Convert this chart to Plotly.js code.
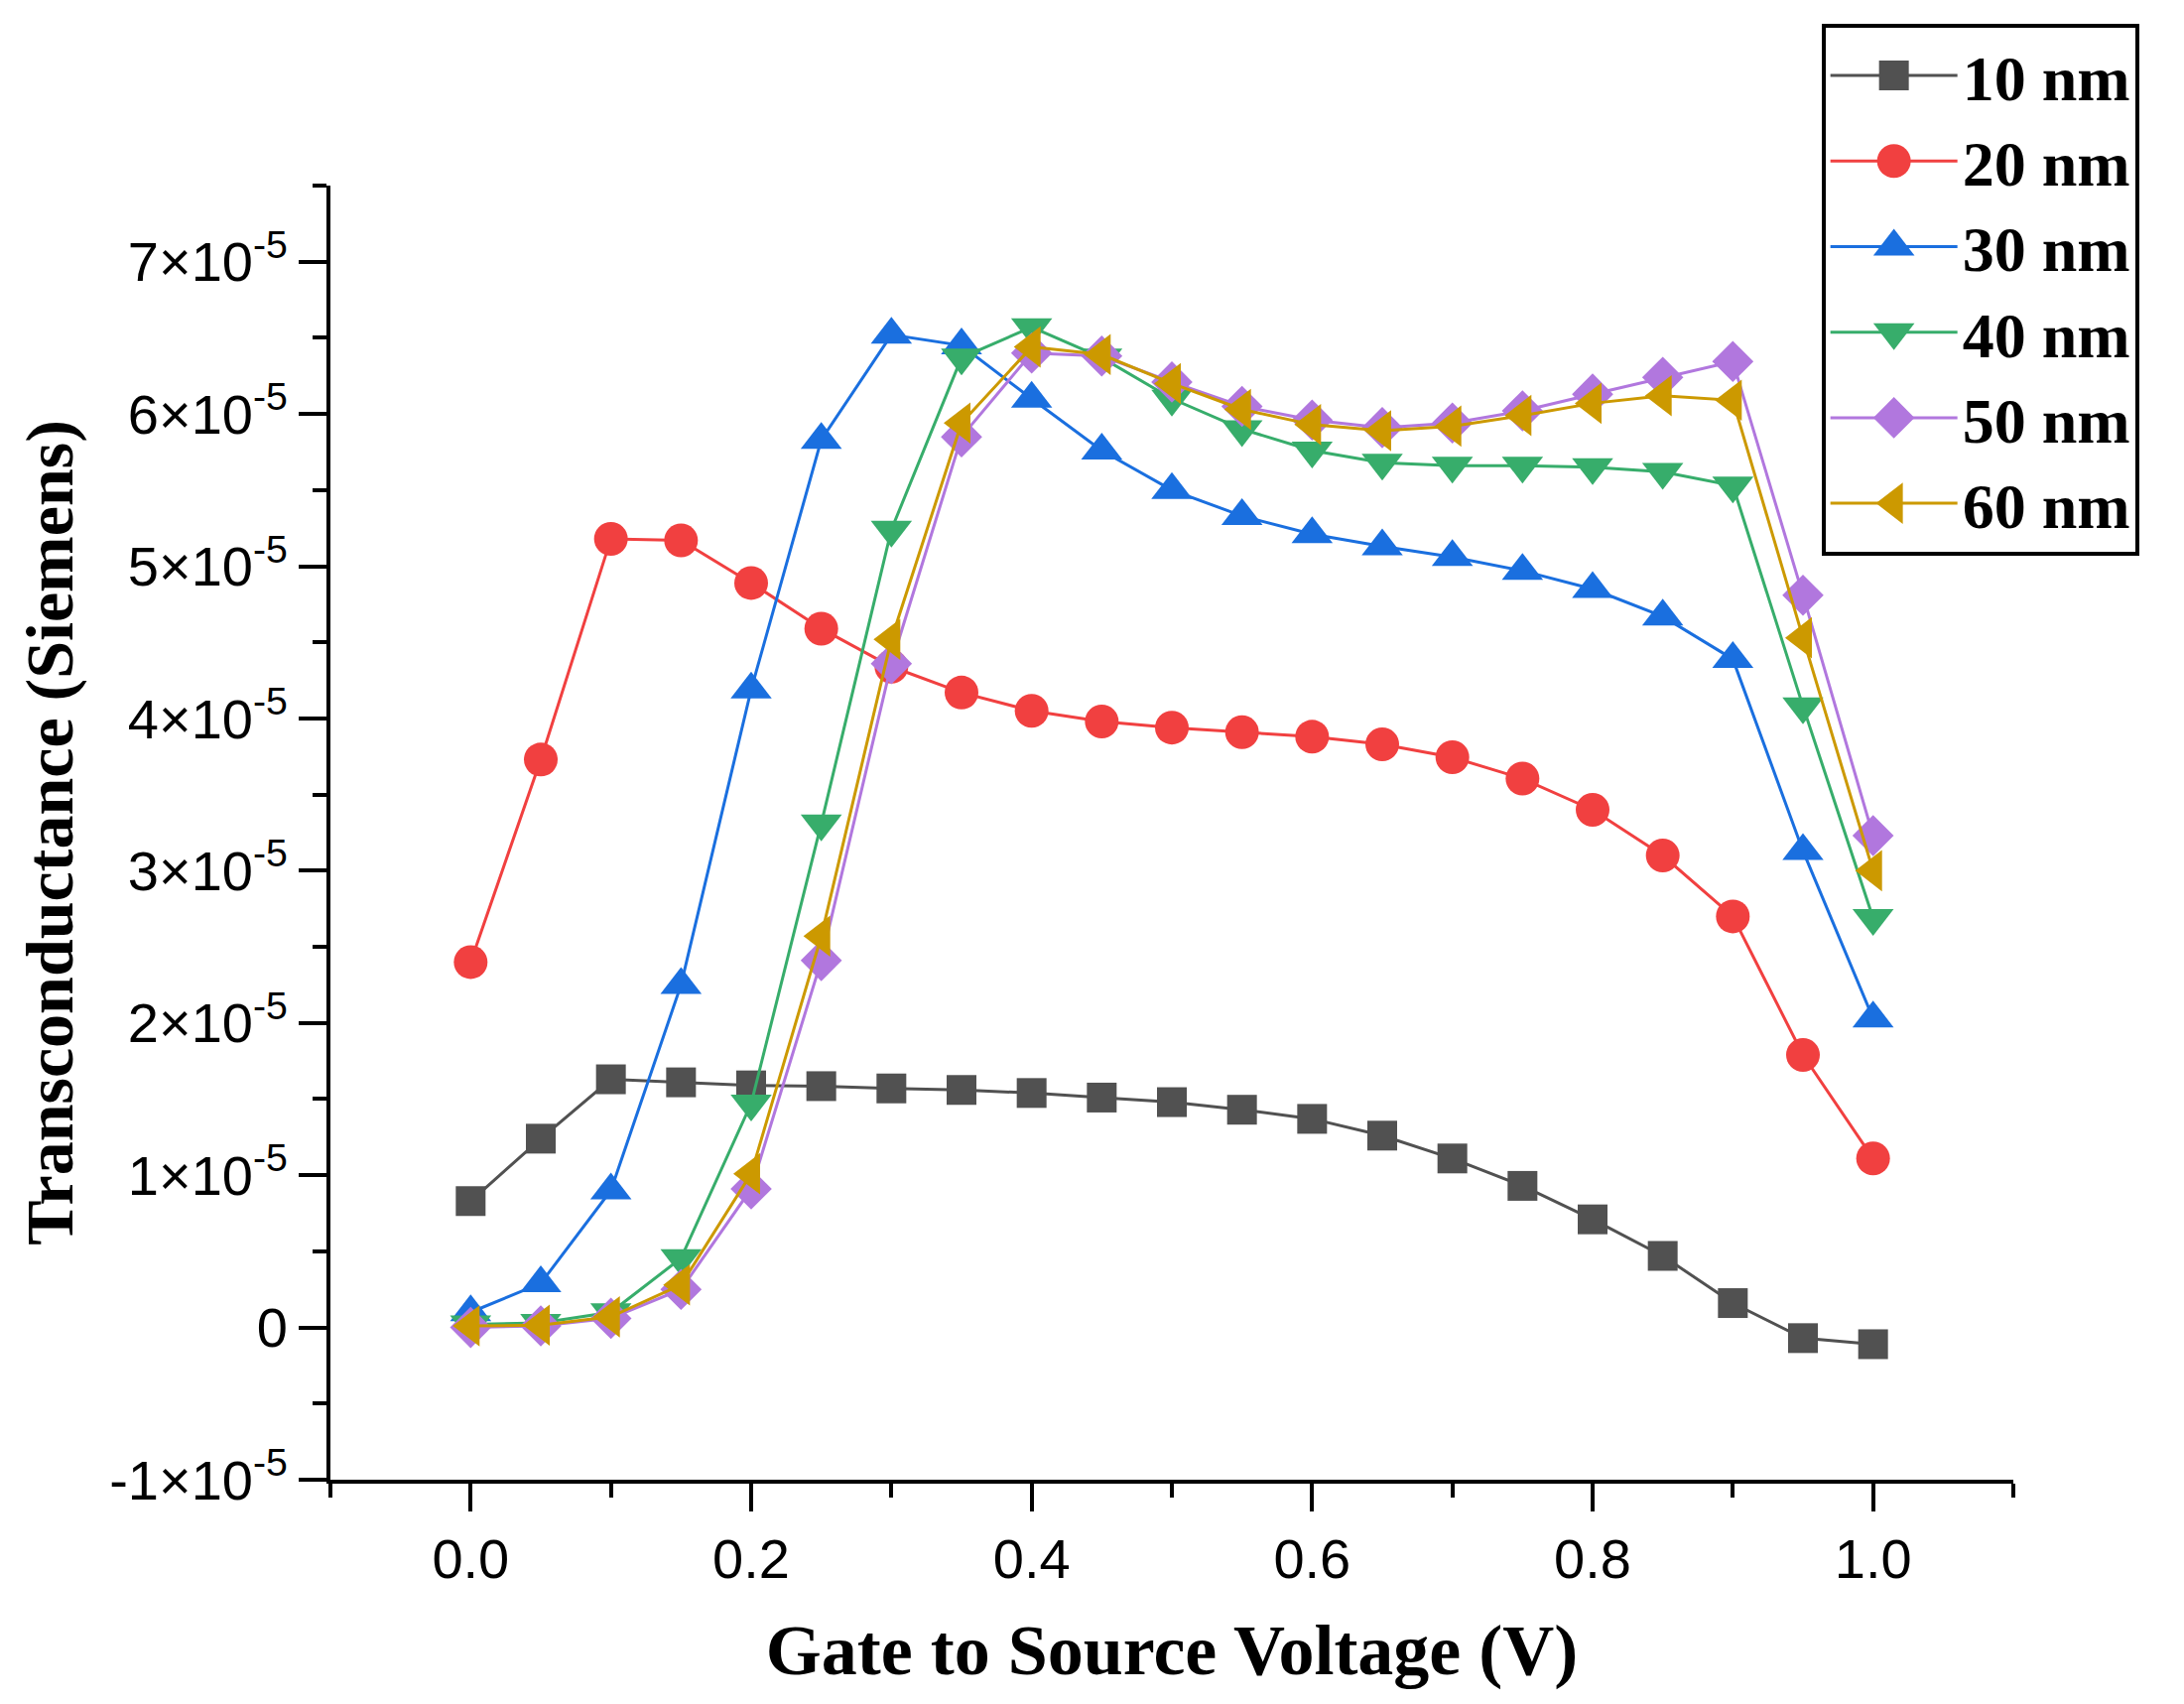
<!DOCTYPE html>
<html>
<head>
<meta charset="utf-8">
<script src="https://cdn.plot.ly/plotly-3.0.1.min.js"></script>
<style>
  html, body { margin: 0; padding: 0; background: #fff; }
  #chart { width: 2201px; height: 1717px; }
</style>
</head>
<body>
<div id="chart"></div>
<script>
// gate voltage (V)
var vgs = [0, 0.05, 0.1, 0.15, 0.2, 0.25, 0.3, 0.35, 0.4, 0.45, 0.5,
           0.55, 0.6, 0.65, 0.7, 0.75, 0.8, 0.85, 0.9, 0.95, 1.0];

// transconductance, in units of 1e-5 S
var gm10 = [0.83, 1.24, 1.63, 1.61, 1.59, 1.585, 1.57, 1.56, 1.54, 1.51, 1.48,
            1.43, 1.37, 1.26, 1.11, 0.93, 0.71, 0.47, 0.16, -0.07, -0.11];
var gm20 = [2.40, 3.73, 5.18, 5.17, 4.89, 4.59, 4.34, 4.17, 4.05, 3.98, 3.94,
            3.91, 3.88, 3.83, 3.745, 3.605, 3.40, 3.10, 2.70, 1.79, 1.11];
var gm30 = [0.1, 0.29, 0.9, 2.25, 4.19, 5.83, 6.52, 6.45, 6.10, 5.76, 5.50,
            5.33, 5.21, 5.13, 5.06, 4.97, 4.85, 4.67, 4.39, 3.13, 2.03];
var gm40 = [0.02, 0.03, 0.10, 0.455, 1.47, 3.31, 5.24, 6.37, 6.57, 6.37, 6.10,
            5.90, 5.76, 5.68, 5.66, 5.66, 5.65, 5.62, 5.53, 4.08, 2.69];
var gm50 = [0.0, 0.01, 0.06, 0.25, 0.91, 2.41, 4.36, 5.85, 6.40, 6.38, 6.21,
            6.05, 5.96, 5.91, 5.94, 6.02, 6.13, 6.24, 6.345, 4.81, 3.23];
var gm60 = [0.01, 0.015, 0.07, 0.28, 1.01, 2.57, 4.52, 5.94, 6.44, 6.39, 6.20,
            6.03, 5.93, 5.89, 5.92, 5.99, 6.07, 6.12, 6.09, 4.53, 3.00];

var names = ['10 nm', '20 nm', '30 nm', '40 nm', '50 nm', '60 nm'];

var xTickVals = [0, 0.2, 0.4, 0.6, 0.8, 1.0];
var xTickText = ['0.0', '0.2', '0.4', '0.6', '0.8', '1.0'];
var yTickVals = [-1, 0, 1, 2, 3, 4, 5, 6, 7];
var yTickText = ['-1×10<sup>-5</sup>', '0', '1×10<sup>-5</sup>', '2×10<sup>-5</sup>',
                 '3×10<sup>-5</sup>', '4×10<sup>-5</sup>', '5×10<sup>-5</sup>',
                 '6×10<sup>-5</sup>', '7×10<sup>-5</sup>'];

var series = [gm10, gm20, gm30, gm40, gm50, gm60];
var colors = ['#515151', '#F14040', '#1A6FDF', '#37AD6B', '#B177DE', '#CC9900'];
var symbols = ['square', 'circle', 'triangle-up', 'triangle-down', 'diamond', 'triangle-left'];
var sizes = [30, 34, 36, 36, 32, 36];

var data = series.map(function (ys, i) {
    return {
        type: 'scatter',
        mode: 'lines+markers',
        name: names[i],
        x: vgs,
        y: ys,
        line: { color: colors[i], width: 3 },
        marker: { color: colors[i], symbol: symbols[i], size: sizes[i], line: { width: 0 } }
    };
});

var tickFont = { family: 'Liberation Sans, Arial, sans-serif', size: 56, color: '#000' };
var serif = 'Liberation Serif, Times New Roman, serif';

var layout = {
    width: 2201,
    height: 1717,
    margin: { l: 333, r: 172, t: 187, b: 226 },
    paper_bgcolor: '#fff',
    plot_bgcolor: '#fff',
    showlegend: true,
    legend: {
        x: 0.886, y: 1.125, xanchor: 'left', yanchor: 'top',
        bgcolor: '#fff',
        bordercolor: '#000',
        borderwidth: 4,
        itemwidth: 128,
        tracegroupgap: 0,
        font: { family: serif, size: 64, color: '#000', weight: 'bold' }
    },
    xaxis: {
        range: [-0.1, 1.1],
        showgrid: false,
        zeroline: false,
        showline: true,
        linecolor: '#000',
        linewidth: 4,
        ticks: 'outside',
        ticklen: 28,
        tickwidth: 4,
        tickcolor: '#000',
        tickmode: 'array',
        tickvals: xTickVals,
        ticktext: xTickText,
        tickfont: tickFont,
        minor: { tickmode: 'linear', tick0: 0, dtick: 0.1, ticks: 'outside', ticklen: 14, tickwidth: 4, tickcolor: '#000', showgrid: false },
        title: { text: 'Gate to Source Voltage (V)', font: { family: serif, size: 72, color: '#000', weight: 'bold' }, standoff: 36 }
    },
    yaxis: {
        range: [-1, 7.5],
        showgrid: false,
        zeroline: false,
        showline: true,
        linecolor: '#000',
        linewidth: 4,
        ticks: 'outside',
        ticklen: 28,
        tickwidth: 4,
        tickcolor: '#000',
        tickmode: 'array',
        tickvals: yTickVals,
        ticktext: yTickText,
        tickfont: tickFont,
        minor: { tickmode: 'linear', tick0: 0, dtick: 0.5, ticks: 'outside', ticklen: 14, tickwidth: 4, tickcolor: '#000', showgrid: false },
        title: { text: 'Transconductance (Siemens)', font: { family: serif, size: 68, color: '#000', weight: 'bold' }, standoff: 15 }
    }
};

Plotly.newPlot('chart', data, layout, { staticPlot: true, displayModeBar: false }).then(function (gd) {
    // legend symbols are capped at 16px, blow them up to the plot marker size
    var groups = gd.querySelectorAll('.legend .traces');
    groups.forEach(function (g, i) {
        var k = sizes[i] / 16;
        g.querySelectorAll('.legendpoints path.scatterpts').forEach(function (p) {
            var t = p.getAttribute('transform') || '';
            p.setAttribute('transform', t + ' scale(' + k + ')');
        });
    });
});
</script>
</body>
</html>
